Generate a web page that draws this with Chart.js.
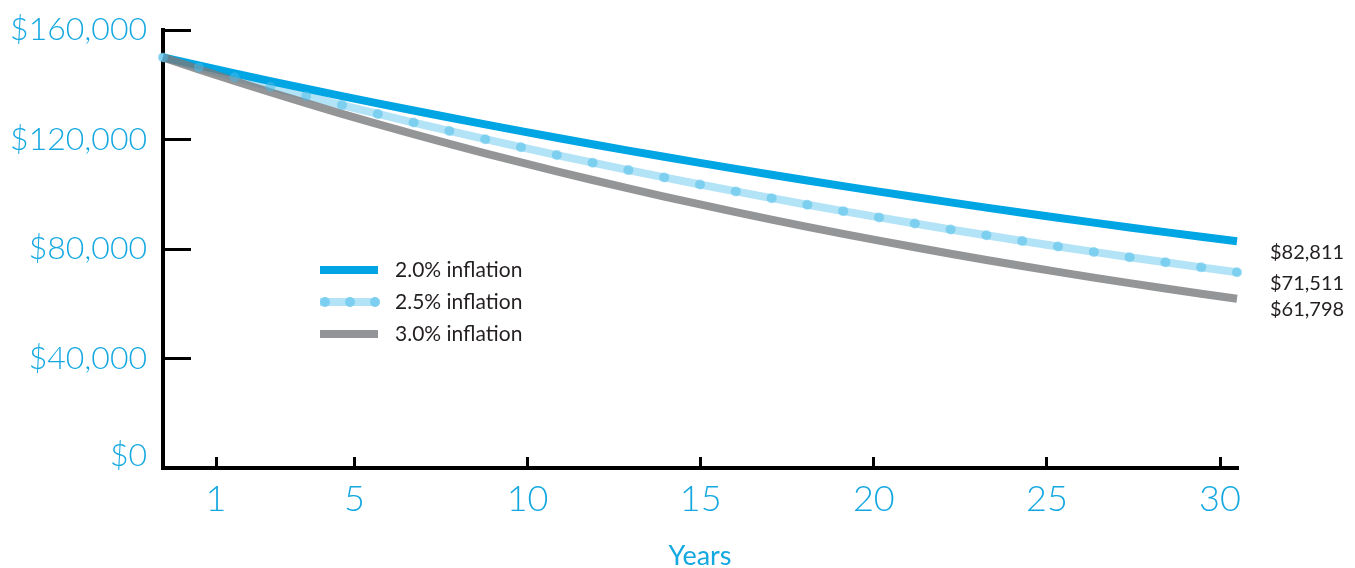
<!DOCTYPE html>
<html>
<head>
<meta charset="utf-8">
<title>Purchasing power of $150,000</title>
<script src="https://cdn.jsdelivr.net/npm/chart.js@4.4.1/dist/chart.umd.min.js"></script>
<style>
  html, body { margin: 0; padding: 0; background: #fff; }
  #wrap { width: 1355px; height: 568px; position: relative; }
</style>
</head>
<body>
<div id="wrap"><canvas id="inflation-chart"></canvas></div>
<script>
// year index for each point (data is spread over the full plot width)
const years = [0, 1, 2, 3, 4, 5, 6, 7, 8, 9, 10, 11, 12, 13, 14, 15,
  16, 17, 18, 19, 20, 21, 22, 23, 24, 25, 26, 27, 28, 29, 30];

const inflation20 = [150000, 147059, 144175, 141348, 138577, 135860, 133196, 130584,
  128024, 125513, 123052, 120639, 118275, 115956, 113682, 111453, 109268, 107125,
  105025, 102965, 100947, 98967, 97027, 95124, 93259, 91430, 89638, 87880, 86157,
  84468, 82811];
const inflation25 = [150000, 146341, 142772, 139290, 135893, 132578, 129345, 126190,
  123112, 120109, 117180, 114322, 111533, 108813, 106159, 103570, 101044, 98579,
  96175, 93829, 91541, 89308, 87130, 85005, 82931, 80909, 78935, 77010, 75132,
  73299, 71511];
const inflation30 = [150000, 145631, 141389, 137271, 133273, 129391, 125623, 121964,
  118411, 114963, 111614, 108363, 105207, 102143, 99168, 96279, 93475, 90752,
  88109, 85543, 83051, 80632, 78284, 76004, 73790, 71641, 69554, 67528, 65562,
  63652, 61798];

const seriesNames = ["2.0% inflation", "2.5% inflation", "3.0% inflation"];
const yearTicks = [1, 5, 10, 15, 20, 25, 30];
const dollarTicks = [0, 40000, 80000, 120000, 160000];

const BLUE = "#00a5e3";
const LIGHT = "#b3e3f6";
const DOT = "#7dcff1";
const DOT_SEE = "rgba(71,187,234,0.5)";
const GRAY = "#929497";
const GRAY_SEE = "rgba(120,122,125,0.8)";
const CYAN = "#14a8e1";
const INK = "#231f20";

const money = v => "$" + v.toLocaleString("en-US");

// legend in the plot + value labels at the end of each line
const extras = {
  id: "extras",
  afterDraw(chart) {
    const ctx = chart.ctx;
    const area = chart.chartArea;
    const y = chart.scales.y;
    ctx.save();
    ctx.fillStyle = INK;
    ctx.textBaseline = "middle";
    ctx.font = "20px Lato";
    [inflation20, inflation25, inflation30].forEach(vals => {
      const last = vals[vals.length - 1];
      ctx.fillText(money(last), area.right + 33, y.getPixelForValue(last) + 11);
    });

    ctx.font = "21px Lato";
    const lx = area.left + 157;
    const colors = [BLUE, LIGHT, GRAY];
    seriesNames.forEach((name, i) => {
      const ly = area.top + 240 + i * 32;
      ctx.beginPath();
      ctx.lineWidth = 8;
      ctx.strokeStyle = colors[i];
      ctx.moveTo(lx, ly);
      ctx.lineTo(lx + 58, ly);
      ctx.stroke();
      if (i === 1) {
        ctx.fillStyle = DOT;
        [5, 30, 55].forEach(dx => {
          ctx.beginPath();
          ctx.arc(lx + dx, ly, 5, 0, Math.PI * 2);
          ctx.fill();
        });
        ctx.fillStyle = INK;
      }
      ctx.fillText(name, lx + 75, ly);
    });
    ctx.restore();
  }
};

const canvas = document.getElementById("inflation-chart");
const context = canvas.getContext("2d");

const chart = new Chart(context, {
  type: "line",
  data: {
    labels: years,
    datasets: [
      { label: seriesNames[1] + " points", data: inflation25, showLine: false,
        pointRadius: 5, pointBackgroundColor: DOT_SEE, pointBorderWidth: 0,
        xAxisID: "xData", order: 0 },
      { label: seriesNames[2], data: inflation30, borderColor: GRAY_SEE, borderWidth: 8,
        pointRadius: 0, borderCapStyle: "butt", xAxisID: "xData", order: 1 },
      { label: seriesNames[0], data: inflation20, borderColor: BLUE, borderWidth: 8,
        pointRadius: 0, borderCapStyle: "butt", xAxisID: "xData", order: 2 },
      { label: seriesNames[1], data: inflation25, borderColor: LIGHT, borderWidth: 8,
        pointRadius: 0, borderCapStyle: "round", xAxisID: "xData", order: 3 }
    ]
  },
  options: {
    responsive: true,
    maintainAspectRatio: false,
    animation: false,
    events: [],
    layout: { padding: { top: 30, right: 118, bottom: 0, left: 0 } },
    plugins: { legend: { display: false }, tooltip: { enabled: false } },
    scales: {
      xData: { type: "category", display: false, offset: false },
      x: {
        type: "linear",
        position: "bottom",
        min: -0.531,
        max: 30.491,
        afterBuildTicks: s => { s.ticks = yearTicks.map(v => ({ value: v })); },
        afterFit: s => { s.height = 100; s.paddingLeft = 0; s.paddingRight = 0; },
        border: { display: true, color: "#000", width: 4 },
        grid: { display: true, drawOnChartArea: false, drawTicks: true,
          tickLength: -11, color: "#000", lineWidth: 3 },
        ticks: { color: CYAN, padding: 21, maxRotation: 0,
          font: { family: "Lato", size: 36, weight: 300 },
          callback: v => String(v) },
        title: { display: true, text: "Years", color: CYAN, padding: { top: 0, bottom: -4 },
          font: { family: "Lato", size: 27, weight: 400 } }
      },
      y: {
        min: 0,
        max: 160000,
        afterBuildTicks: s => { s.ticks = dollarTicks.map(v => ({ value: v })); },
        afterFit: s => { s.width = 163; s.paddingTop = 20; s.paddingBottom = 0; },
        border: { display: true, color: "#000", width: 4 },
        grid: { display: true, drawOnChartArea: false, drawTicks: true,
          tickLength: -28, color: "#000", lineWidth: 3 },
        ticks: { color: CYAN, padding: 44,
          font: c => (c.tick && c.tick.value === 0)
            ? { family: "Lato", size: 32, weight: 300, lineHeight: 0.75 }
            : { family: "Lato", size: 32, weight: 300 },
          callback: v => v === 0 ? [money(v), ""] : money(v) }
      }
    }
  },
  plugins: [extras]
});
</script>
</body>
</html>
